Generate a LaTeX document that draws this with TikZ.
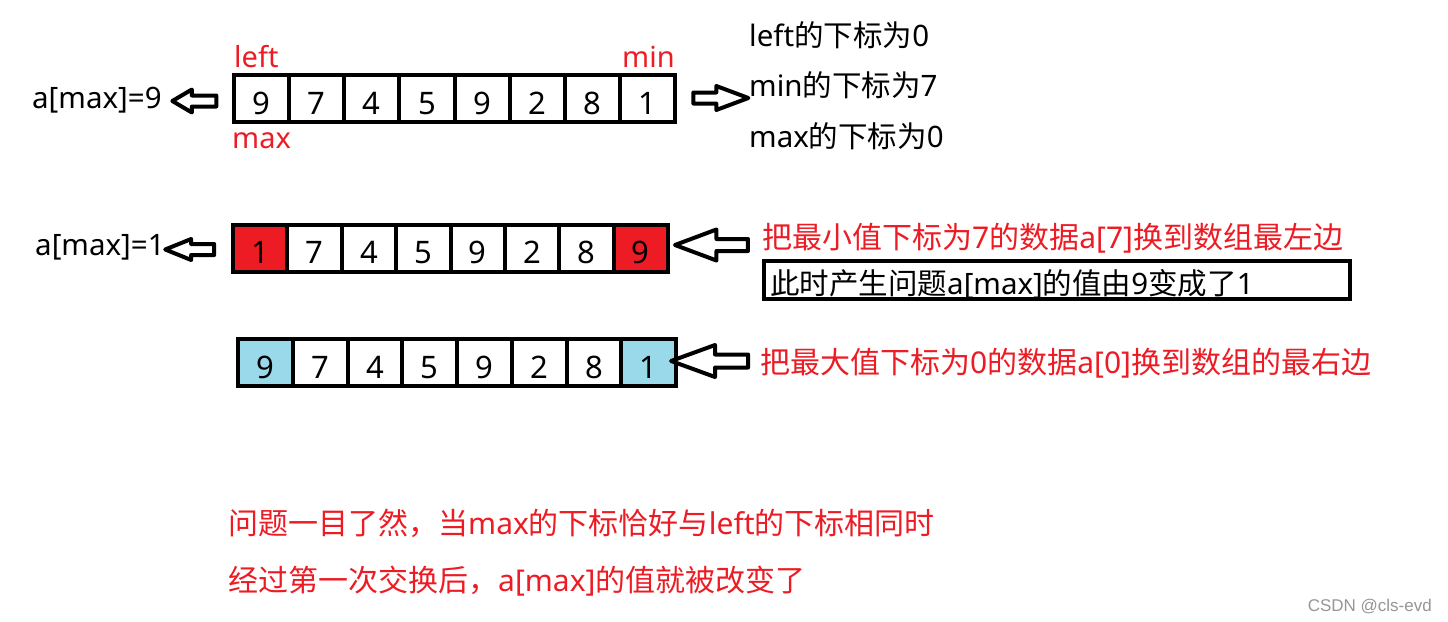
\documentclass[tikz,border=0pt]{standalone}
\usepackage{fontspec}
\setmainfont{Noto Sans}
\newfontfamily\cjk{Noto Sans CJK SC}
\newfontfamily\wmfont{Liberation Sans}
\newcommand\zh[1]{{\cjk #1}}
\usetikzlibrary{shapes.arrows}
\definecolor{pred}{RGB}{237,28,36}
\definecolor{pblue}{RGB}{153,217,234}
\definecolor{wmgray}{RGB}{150,150,150}
\begin{document}
\begin{tikzpicture}[x=1pt,y=-1pt,
  cell/.style={draw=black, line width=4pt, minimum height=47pt, inner sep=0pt,
    text height=31pt, text depth=0pt, font=\fontsize{31}{31}\selectfont, anchor=center},
  blk/.style={single arrow, draw=black, line width=4pt, line join=round, inner xsep=0pt,
    outer sep=0pt, fill=white},
  lbl/.style={anchor=base west, inner sep=0pt, font=\fontsize{29.5}{29.5}\selectfont},
  redl/.style={lbl, text=pred, font=\fontsize{30}{30}\selectfont},
  bigl/.style={redl, font=\fontsize{30}{30}\selectfont},
]
\useasboundingbox[fill=white] (0,0) rectangle (1448,621);

% row 1
\foreach \v [count=\i from 0] in {9,7,4,5,9,2,8,1}
  \node[cell, minimum width=55.125pt] (a\i) at ({234+55.125*(\i+0.5)},98.5) {\v};
% row 2
\foreach \v/\f [count=\i from 0] in {1/pred,7/white,4/white,5/white,9/white,2/white,8/white,9/pred}
  \node[cell, fill=\f, minimum width=54.375pt] (b\i) at ({233+54.375*(\i+0.5)},248) {\v};
% row 3
\foreach \v/\f [count=\i from 0] in {9/pblue,7/white,4/white,5/white,9/white,2/white,8/white,1/pblue}
  \node[cell, fill=\f, minimum width=54.75pt] (c\i) at ({238+54.75*(\i+0.5)},362.5) {\v};

% labels row 1
\node[lbl] (v1) at (32,108) {a[max]=9};
\node[redl, font=\fontsize{29}{29}\selectfont] (lleft) at (234,67) {left};
\node[redl, font=\fontsize{29}{29}\selectfont] (lmin) at (622,67) {min};
\node[redl, font=\fontsize{29}{29}\selectfont] (lmax) at (232,148) {max};
\node[lbl] (t1) at (749,46) {left\zh{的下标为}0};
\node[lbl] (t2) at (749,96) {min\zh{的下标为}7};
\node[lbl] (t3) at (749,147) {max\zh{的下标为}0};

% row 2 labels
\node[lbl] (v2) at (35,255) {a[max]=1};
\node[redl] (r2) at (762,248) {\zh{把最小值下标为}7\zh{的数据}a[7]\zh{换到数组最左边}};
\node[draw=black, line width=4pt, minimum width=586pt, minimum height=38pt, inner sep=0pt] (box) at (1057,280) {};
\node[lbl] (boxt) at (770,294) {\zh{此时产生问题}a[max]\zh{的值由}9\zh{变成了}1};

% row 3 label
\node[redl] (r3) at (760,373) {\zh{把最大值下标为}0\zh{的数据}a[0]\zh{换到数组的最右边}};

% bottom text
\node[bigl] (b1t) at (228,534) {\zh{问题一目了然，当}max\zh{的下标恰好与}left\zh{的下标相同时}};
\node[bigl] (b2t) at (228,591) {\zh{经过第一次交换后，}a[max]\zh{的值就被改变了}};

% watermark
\node[anchor=base east, inner sep=0pt, text=wmgray, font=\wmfont\fontsize{17}{17}\selectfont] (wm) at (1432,611) {CSDN @cls-evd};

% block arrows
\node[blk, shape border rotate=180, minimum height=44pt, minimum width=19pt, inner ysep=3.5pt,
  single arrow head extend=6pt, single arrow tip angle=61] (arA) at (199,101) {};
\node[blk, minimum height=55pt, minimum width=20pt, inner ysep=3.5pt,
  single arrow head extend=6.5pt, single arrow tip angle=41] (arB) at (713.5,98) {};
\node[blk, shape border rotate=180, minimum height=49pt, minimum width=17pt, inner ysep=3.5pt,
  single arrow head extend=5pt, single arrow tip angle=44] (arC) at (196.5,249.5) {};
\node[blk, shape border rotate=180, minimum height=73pt, minimum width=27pt, inner ysep=4pt,
  single arrow head extend=9.5pt, single arrow tip angle=41] (arD) at (719.5,245) {};
\node[blk, shape border rotate=180, minimum height=77pt, minimum width=28pt, inner ysep=4.5pt,
  single arrow head extend=9.5pt, single arrow tip angle=40] (arE) at (718.5,361) {};
\end{tikzpicture}
\end{document}
